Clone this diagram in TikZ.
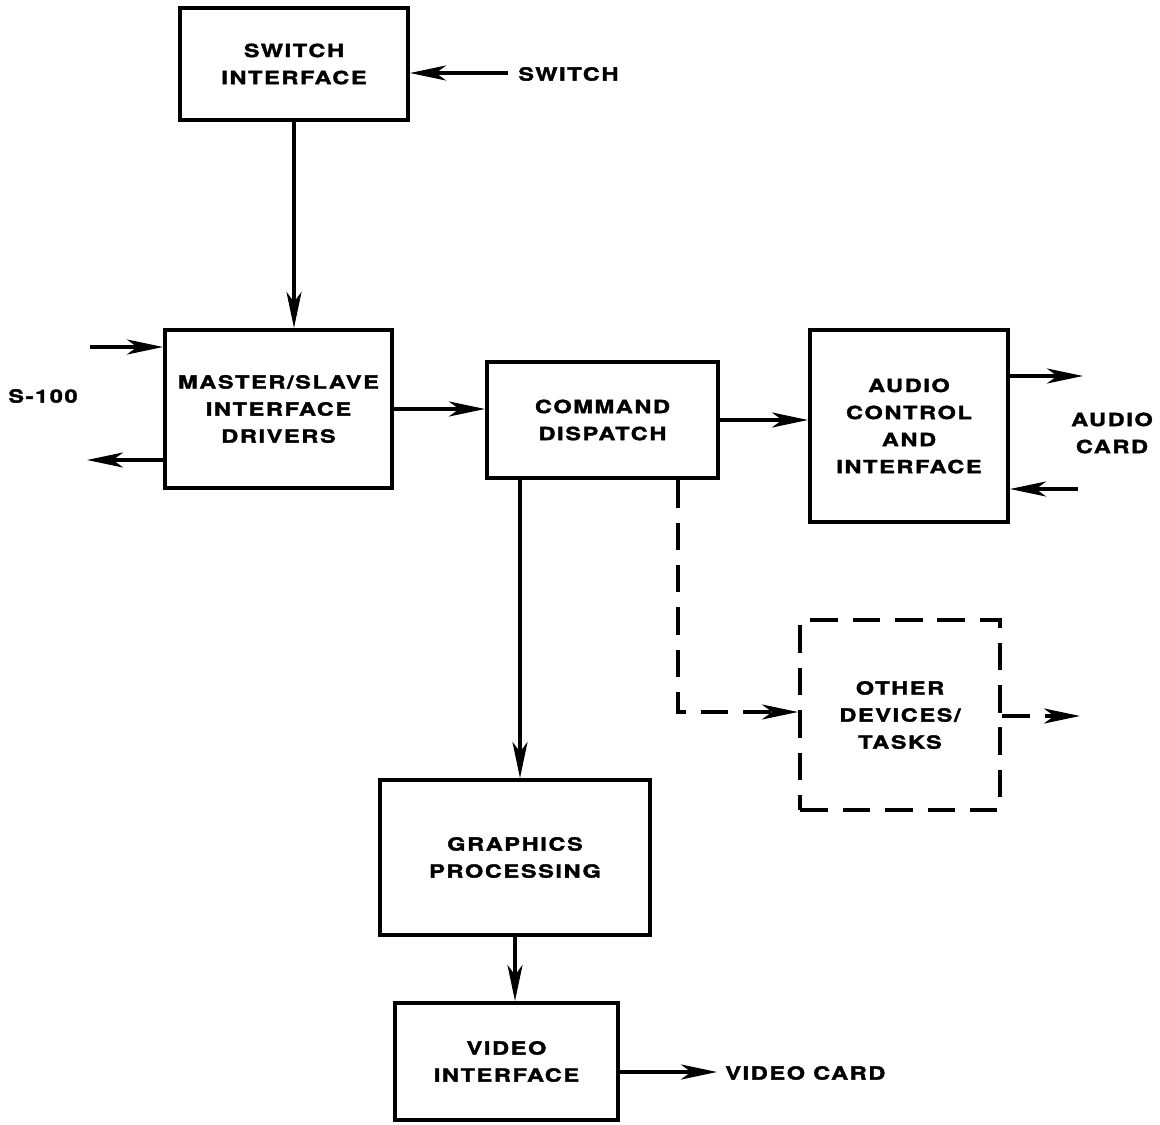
\documentclass[tikz,border=0pt]{standalone}
\usepackage{fontspec}
\newfontfamily\labfont{TeX Gyre Heros}[FakeStretch=1.3,FakeBold=2,LetterSpace=9]
\usetikzlibrary{arrows.meta}
\begin{document}
\begin{tikzpicture}[x=0.02cm,y=-0.02cm,
  blk/.style={draw,line width=2.3pt,align=center,inner sep=0pt},
  lab/.style={align=center,inner sep=0pt},
  arr/.style={line width=2pt,-{Stealth[length=0.72cm,width=0.3cm,inset=0.2cm]}},
  dsh/.style={dash pattern=on 0.55cm off 0.3cm},
  every node/.style={font=\labfont\bfseries\fontsize{10.3}{15.4}\selectfont}]
\useasboundingbox (0,0) rectangle (1160,1125);
\node[blk,minimum width=4.56cm,minimum height=2.24cm] (switch) at (294,64) {SWITCH\\INTERFACE};
\node[blk,minimum width=4.54cm,minimum height=3.16cm] (master) at (278.5,409) {MASTER/SLAVE\\INTERFACE\\DRIVERS};
\node[blk,minimum width=4.62cm,minimum height=2.32cm] (command) at (602.5,420) {COMMAND\\DISPATCH};
\node[blk,minimum width=3.96cm,minimum height=3.84cm] (audio) at (909,426) {AUDIO\\CONTROL\\AND\\INTERFACE};
\node[blk,dsh,minimum width=4.0cm,minimum height=3.8cm] (other) at (900,715) {OTHER\\DEVICES/\\TASKS};
\node[blk,minimum width=5.4cm,minimum height=3.1cm] (graphics) at (515,857.5) {GRAPHICS\\PROCESSING};
\node[blk,minimum width=4.46cm,minimum height=2.34cm] (video) at (506.5,1061.5) {VIDEO\\INTERFACE};
\node[lab,anchor=west] (swlab) at (518,74) {SWITCH};
\node[lab,anchor=west] (s100) at (8,396) {S-100};
\node[lab] (acard) at (1112,433) {AUDIO\\CARD};
\node[lab,anchor=west] (vcard) at (725,1073) {VIDEO CARD};
\coordinate (swa) at (508,73);
\coordinate (s1in) at (90,347);
\coordinate (s1out) at (87,460);
\coordinate (aout) at (1083,376);
\coordinate (ain) at (1078,489);
\coordinate (cg) at (520,0);
\coordinate (dd) at (678,712);
\coordinate (oout) at (1080,716);
\coordinate (vout) at (717,1072);
\draw[arr] (swa) -- (swa -| switch.east);
\draw[arr] (switch.south) -- (switch.south |- master.north);
\draw[arr] (s1in) -- (s1in -| master.west);
\draw[arr] (s1out -| master.west) -- (s1out);
\draw[arr] (master.east) -- (master.east -| command.west);
\draw[arr] (command.east) -- (command.east -| audio.west);
\draw[arr] (aout -| audio.east) -- (aout);
\draw[arr] (ain) -- (ain -| audio.east);
\draw[arr] (cg |- command.south) -- (cg |- graphics.north);
\draw[arr,dsh] (dd |- command.south) -- (dd) -- (dd -| other.west);
\draw[arr,dsh] (oout -| other.east) -- (oout);
\draw[arr] (graphics.south) -- (graphics.south |- video.north);
\draw[arr] (video.east |- vout) -- (vout);
\end{tikzpicture}
\end{document}
